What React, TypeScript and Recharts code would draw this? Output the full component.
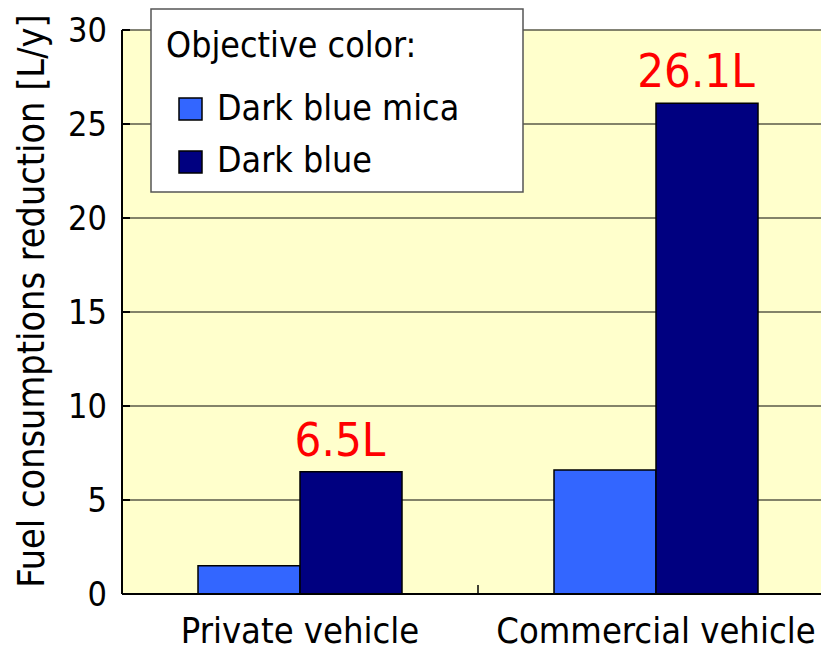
import React from "react"
import { BarChart, Bar, XAxis, YAxis, CartesianGrid, LabelList } from "recharts"

const categories = ["Private vehicle", "Commercial vehicle"]
const darkBlueMica = [1.5, 6.6]
const darkBlue = [6.5, 26.1]
const yTicks = [0, 5, 10, 15, 20, 25, 30]
const seriesNames = ["Dark blue mica", "Dark blue"]
const seriesColors = ["#3366FF", "#000080"]

const data = categories.map((name, i) => ({ name, mica: darkBlueMica[i], dark: darkBlue[i] }))

const FONT = "'DejaVu Sans Condensed', 'DejaVu Sans', sans-serif"
const CHART_W = 900
const CHART_H = 651
const PLOT_LEFT = 122
const PLOT_TOP = 30
const PLOT_RIGHT = 834
const PLOT_BOTTOM = 594
const BAND = (PLOT_RIGHT - PLOT_LEFT) / categories.length

const YTick = ({ x, y, payload }: any) => (
  <g>
    <line x1={PLOT_LEFT} x2={PLOT_LEFT + 8} y1={y} y2={y} stroke="#000" strokeWidth={2} />
    <text x={x} y={y} dy="0.36em" textAnchor="end" fontSize={34} fontFamily={FONT} fill="#000">
      {payload.value}
    </text>
  </g>
)

const XTick = ({ x, y, payload, index }: any) => (
  <g>
    {index < categories.length - 1 && (
      <line x1={x + BAND / 2} x2={x + BAND / 2} y1={PLOT_BOTTOM} y2={PLOT_BOTTOM - 9} stroke="#000" strokeWidth={1.5} />
    )}
    <text x={x} y={y + 49} textAnchor="middle" fontSize={36} fontFamily={FONT} fill="#000">
      {payload.value}
    </text>
  </g>
)

const YTitle = () => (
  <text
    transform={`translate(44, ${(PLOT_TOP + PLOT_BOTTOM) / 2 - 11}) rotate(-90)`}
    textAnchor="middle"
    fontSize={37.5}
    fontFamily={FONT}
    fill="#000"
  >
    Fuel consumptions reduction [L/y]
  </text>
)

const LegendBox = () => (
  <svg width={374} height={185} style={{ position: "absolute", left: 150, top: 8 }}>
    <rect x={1} y={1} width={372} height={183} fill="#fff" stroke="#555" strokeWidth={1.5} />
    <text x={16} y={49} fontSize={35.5} fontFamily={FONT} fill="#000">Objective color:</text>
    {seriesNames.map((name, i) => (
      <g key={name}>
        <rect x={29} y={90 + i * 53} width={23} height={22} fill={seriesColors[i]} stroke="#000" strokeWidth={1.5} />
        <text x={67} y={112 + i * 52} fontSize={35.5} fontFamily={FONT} fill="#000">{name}</text>
      </g>
    ))}
  </svg>
)

export default function App() {
  return (
    <div style={{ position: "absolute", left: 0, top: 0, width: 821, height: 651, overflow: "hidden", background: "#fff" }}>
      <BarChart
        width={CHART_W}
        height={CHART_H}
        data={data}
        margin={{ top: PLOT_TOP, right: CHART_W - PLOT_RIGHT, bottom: 0, left: 0 }}
        barCategoryGap="21.35%"
        barGap={0}
      >
        <CartesianGrid vertical={false} fill="#FFFFCC" stroke="#5a5a48" strokeWidth={1.5} />
        <XAxis
          dataKey="name"
          height={CHART_H - PLOT_BOTTOM}
          tickLine={false}
          tickSize={0}
          tickMargin={0}
          axisLine={{ stroke: "#000", strokeWidth: 2 }}
          tick={<XTick />}
          interval={0}
        />
        <YAxis
          width={PLOT_LEFT}
          domain={[0, 30]}
          ticks={yTicks}
          tickLine={false}
          tickSize={0}
          tickMargin={15}
          axisLine={{ stroke: "#000", strokeWidth: 2 }}
          tick={<YTick />}
          interval={0}
          label={<YTitle />}
        />
        <Bar dataKey="mica" name={seriesNames[0]} fill={seriesColors[0]} stroke="#000" strokeWidth={1.5} isAnimationActive={false} />
        <Bar dataKey="dark" name={seriesNames[1]} fill={seriesColors[1]} stroke="#000" strokeWidth={1.5} isAnimationActive={false}>
          <LabelList
            dataKey="dark"
            position="top"
            offset={16}
            dx={-11}
            formatter={(v: any) => `${Number(v).toFixed(1)}L`}
            fill="#FF0000"
            fontSize={47}
            fontFamily={FONT}
          />
        </Bar>
      </BarChart>
      <LegendBox />
    </div>
  )
}
